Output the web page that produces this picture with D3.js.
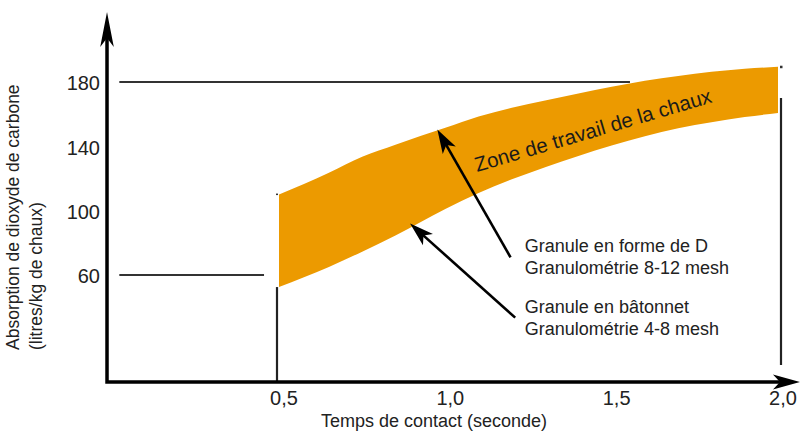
<!DOCTYPE html>
<html>
<head>
<meta charset="utf-8">
<script src="https://cdn.jsdelivr.net/npm/d3@7"></script>
<style>
  body { margin: 0; background: #fff; }
  text { font-family: "Liberation Sans", Arial, sans-serif; }
</style>
</head>
<body>
<div id="chart"></div>
<script>
// data
const timeVals  = [0.5, 0.65, 0.75, 0.85, 1.0, 1.1, 1.2, 1.3, 1.4, 1.5, 1.6, 1.7, 1.8, 1.9, 2.0];
const upperVals = [110, 123.5, 133.5, 141, 151.5, 158.5, 164, 168.5, 172.8, 177, 180.8, 183.8, 186.3, 188.2, 189.5];
const lowerVals = [52.5, 65, 74.5, 84.5, 101, 111, 119.5, 127, 134, 140.5, 146.2, 151.2, 155, 158.2, 160.7];

const xTicks = [0.5, 1.0, 1.5, 2.0];
const xTickLabels = ["0,5", "1,0", "1,5", "2,0"];
const yTicks = [60, 100, 140, 180];

const refLevels = [180, 60];           // horizontal reference lines
const refStart = [0.02, 0.02];
const refEnd = [1.555, 0.455];

const arrowFrom = [[1.196, 71], [1.21, 33.5]];
const arrowTo = [[0.976, 150.5], [0.894, 92]];

const noteLines = [
  ["Granule en forme de D", "Granulométrie 8-12 mesh"],
  ["Granule en bâtonnet", "Granulométrie 4-8 mesh"]
];
const noteAnchor = [[1.239, 74.5], [1.239, 36.5]];

const zoneLabel = "Zone de travail de la chaux";
const yTitle = ["Absorption de dioxyde de carbone", "(litres/kg de chaux)"];
const xTitle = "Temps de contact (seconde)";

const width = 805, height = 432;

const svg = d3.select("#chart").append("svg")
    .attr("width", width)
    .attr("height", height);

// scales
const x = d3.scaleLinear().domain([0.5, 2.0]).range([279, 778]);
const y = d3.scaleLinear().domain([60, 180]).range([275, 82]);

const xAxisMin = -0.017, xAxisMax = 2.066;
const yAxisMin = -6.6, yAxisMax = 223.5;

// arrowhead polygon helper
function headPath(x0, y0, x1, y1, L, W, N) {
    const dx = x1 - x0, dy = y1 - y0;
    const len = Math.hypot(dx, dy);
    const ux = dx / len, uy = dy / len;
    const nx = -uy, ny = ux;
    const bx = x1 - L * ux, by = y1 - L * uy;
    const p = [
        [x1, y1],
        [bx + W * nx, by + W * ny],
        [x1 - (L - N) * ux, y1 - (L - N) * uy],
        [bx - W * nx, by - W * ny]
    ];
    return "M" + p.map(d => d.join(",")).join("L") + "Z";
}

// orange working zone
const bandData = timeVals.map((t, i) => ({t: t, lo: lowerVals[i], hi: upperVals[i]}));
const area = d3.area()
    .x(d => x(d.t))
    .y0(d => y(d.lo))
    .y1(d => y(d.hi))
    .curve(d3.curveMonotoneX);

svg.append("path")
    .datum(bandData)
    .attr("d", area)
    .attr("fill", "#ec9a00");

// reference lines
svg.selectAll(".ref")
    .data(refLevels)
    .enter()
    .append("line")
    .attr("class", "ref")
    .attr("x1", (d, i) => x(refStart[i]))
    .attr("x2", (d, i) => x(refEnd[i]))
    .attr("y1", d => y(d))
    .attr("y2", d => y(d))
    .attr("stroke", "#333")
    .attr("stroke-width", 2.2);

// vertical boundary lines at 0,5 and 2,0
svg.append("line")
    .attr("x1", x(0.5) - 2).attr("x2", x(0.5) - 2)
    .attr("y1", y(lowerVals[0])).attr("y2", y(yAxisMin))
    .attr("stroke", "#222").attr("stroke-width", 2.2);
svg.append("rect")
    .attr("x", x(0.5) - 3).attr("y", y(upperVals[0]) - 1)
    .attr("width", 2).attr("height", 1.5).attr("fill", "#333");

svg.append("line")
    .attr("x1", x(2.0) + 3).attr("x2", x(2.0) + 3)
    .attr("y1", y(170)).attr("y2", y(4))
    .attr("stroke", "#222").attr("stroke-width", 2.2);
svg.append("rect")
    .attr("x", x(2.0) + 2).attr("y", y(upperVals[upperVals.length - 1]) - 1)
    .attr("width", 2.5).attr("height", 2.5).attr("fill", "#333");

// axes
const axisG = svg.append("g");
const ax0 = x(xAxisMin), ay0 = y(yAxisMin);
axisG.append("path")
    .attr("d", `M${ax0},${y(yAxisMax) + 25}L${ax0},${ay0}L${x(xAxisMax) - 20},${ay0}`)
    .attr("fill", "none")
    .attr("stroke", "#000")
    .attr("stroke-width", 3.5);
axisG.append("path")
    .attr("d", headPath(ax0, ay0, ax0, y(yAxisMax), 35, 6.8, 9))
    .attr("fill", "#000");
axisG.append("path")
    .attr("d", headPath(ax0, ay0, x(xAxisMax), ay0, 27, 7.5, 7))
    .attr("fill", "#000");

// tick labels
svg.selectAll(".ytick")
    .data(yTicks)
    .enter()
    .append("text")
    .attr("class", "ytick")
    .attr("x", ax0 - 7)
    .attr("y", d => y(d))
    .attr("dy", "0.42em")
    .attr("text-anchor", "end")
    .attr("font-size", 20)
    .attr("fill", "#222")
    .text(d => d);

svg.selectAll(".xtick")
    .data(xTicks)
    .enter()
    .append("text")
    .attr("class", "xtick")
    .attr("x", d => x(d) + 5)
    .attr("y", ay0 + 23)
    .attr("text-anchor", "middle")
    .attr("font-size", 20)
    .attr("fill", "#222")
    .text((d, i) => xTickLabels[i]);

// axis titles
svg.append("text")
    .attr("x", 434)
    .attr("y", 427)
    .attr("text-anchor", "middle")
    .attr("font-size", 18)
    .attr("fill", "#222")
    .text(xTitle);

svg.selectAll(".ytitle")
    .data(yTitle)
    .enter()
    .append("text")
    .attr("class", "ytitle")
    .attr("transform", (d, i) => `translate(${18.5 + i * 23.5},350) rotate(-90)`)
    .attr("font-size", 17.5)
    .attr("fill", "#222")
    .text(d => d);

// zone label, tilted along the band
svg.append("text")
    .attr("transform", `translate(${x(1.095)},${y(124)}) rotate(-16.5)`)
    .attr("font-size", 20.5)
    .attr("fill", "#1a1a1a")
    .text(zoneLabel);

// pointer arrows
arrowFrom.forEach((f, i) => {
    const x0 = x(f[0]), y0 = y(f[1]);
    const x1 = x(arrowTo[i][0]), y1 = y(arrowTo[i][1]);
    const len = Math.hypot(x1 - x0, y1 - y0);
    const k = (len - 14) / len;
    svg.append("line")
        .attr("x1", x0).attr("y1", y0)
        .attr("x2", x0 + (x1 - x0) * k).attr("y2", y0 + (y1 - y0) * k)
        .attr("stroke", "#000")
        .attr("stroke-width", 2.6);
    svg.append("path")
        .attr("d", headPath(x0, y0, x1, y1, 24, 7.5, 6))
        .attr("fill", "#000");
});

// notes
noteLines.forEach((lines, i) => {
    const t = svg.append("text")
        .attr("x", x(noteAnchor[i][0]))
        .attr("y", y(noteAnchor[i][1]))
        .attr("font-size", 18)
        .attr("fill", "#222");
    lines.forEach((s, j) => {
        t.append("tspan")
            .attr("x", x(noteAnchor[i][0]))
            .attr("dy", j === 0 ? 0 : 22)
            .text(s);
    });
});
</script>
</body>
</html>
